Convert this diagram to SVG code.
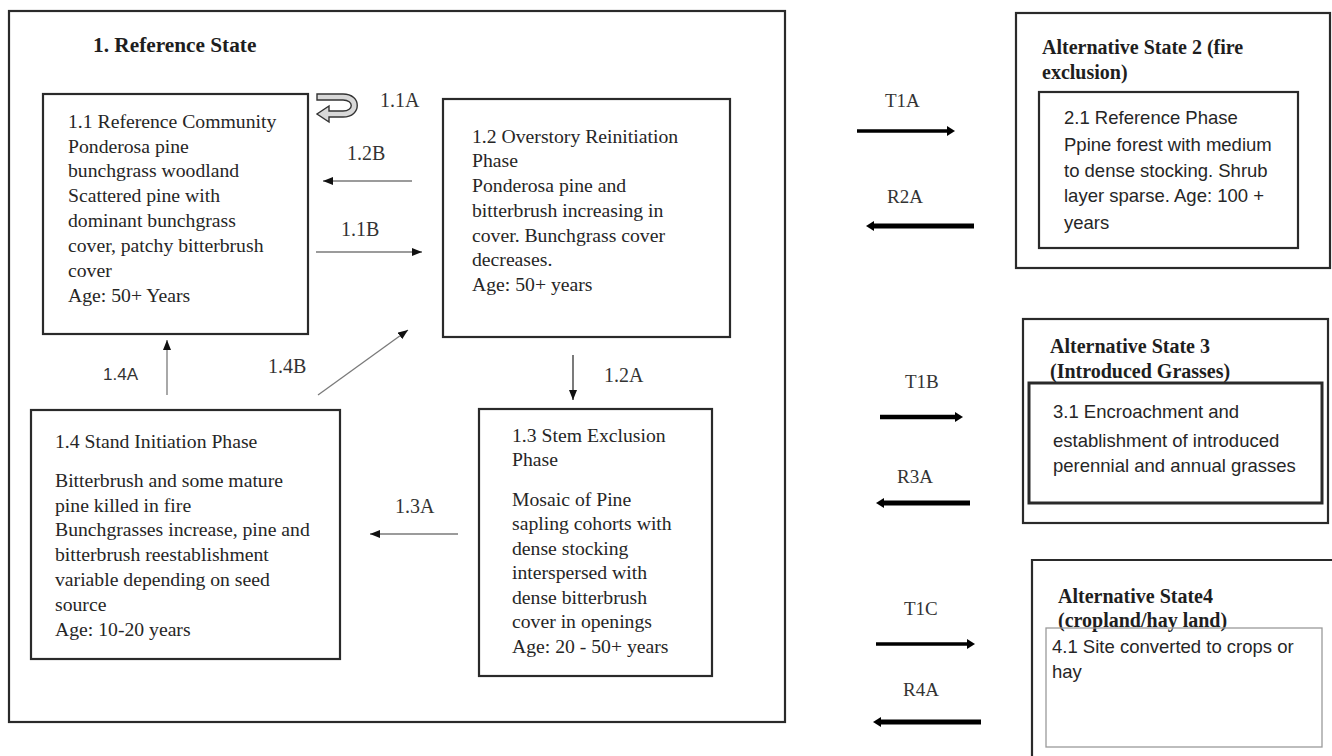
<svg xmlns="http://www.w3.org/2000/svg" width="1332" height="756" viewBox="0 0 1332 756">
<style>
.bx{fill:none;stroke:#2a2a2a;stroke-width:2.2}
.t{font-family:"Liberation Serif","Times New Roman",serif;font-size:19.7px;fill:#262626}
.tb{font-family:"Liberation Serif","Times New Roman",serif;font-size:20px;font-weight:bold;fill:#1e1e1e}
.lb{font-family:"Liberation Serif","Times New Roman",serif;font-size:20px;fill:#333}
.s{font-family:"Liberation Sans",Arial,sans-serif;font-size:18.5px;fill:#262626}
.thin{stroke:#7a7a7a;stroke-width:1.3;fill:none}
.thick{stroke:#000;fill:none}
</style>
<defs>
<marker id="ah" markerWidth="10" markerHeight="8" refX="10" refY="4" orient="auto" markerUnits="userSpaceOnUse"><path d="M0,0 L10,4 L0,8 Z" fill="#111"/></marker>
<marker id="ahT" markerWidth="8" markerHeight="10" refX="0" refY="5" orient="auto" markerUnits="userSpaceOnUse"><path d="M0,0 L8,5 L0,10 Z" fill="#000"/></marker>
</defs>
<rect width="1332" height="756" fill="#fff"/>

<g id="state1">
<rect class="bx" x="9" y="11" width="776" height="711"/>
<text class="tb" x="93" y="52" style="font-size:21.3px">1. Reference State</text>
</g>

<g id="n11">
<rect class="bx" x="43" y="94" width="265" height="240"/>
<text class="t"><tspan x="68" y="128">1.1 Reference Community</tspan><tspan x="68" y="153">Ponderosa pine</tspan><tspan x="68" y="177">bunchgrass woodland</tspan><tspan x="68" y="202">Scattered pine with</tspan><tspan x="68" y="227">dominant bunchgrass</tspan><tspan x="68" y="252">cover, patchy bitterbrush</tspan><tspan x="68" y="277">cover</tspan><tspan x="68" y="302">Age: 50+ Years</tspan></text>
</g>

<g id="n12">
<rect class="bx" x="443" y="99" width="287" height="238"/>
<text class="t"><tspan x="472" y="143">1.2 Overstory Reinitiation</tspan><tspan x="472" y="167">Phase</tspan><tspan x="472" y="192">Ponderosa pine and</tspan><tspan x="472" y="217">bitterbrush increasing in</tspan><tspan x="472" y="242">cover. Bunchgrass cover</tspan><tspan x="472" y="266">decreases.</tspan><tspan x="472" y="291">Age: 50+ years</tspan></text>
</g>

<g id="n13">
<rect class="bx" x="479" y="409" width="233" height="267"/>
<text class="t"><tspan x="512" y="442">1.3 Stem Exclusion</tspan><tspan x="512" y="466">Phase</tspan><tspan x="512" y="506">Mosaic of Pine</tspan><tspan x="512" y="530">sapling cohorts with</tspan><tspan x="512" y="555">dense stocking</tspan><tspan x="512" y="579">interspersed with</tspan><tspan x="512" y="604">dense bitterbrush</tspan><tspan x="512" y="628">cover in openings</tspan><tspan x="512" y="653">Age: 20 - 50+ years</tspan></text>
</g>

<g id="n14">
<rect class="bx" x="31" y="410" width="309" height="249"/>
<text class="t"><tspan x="55" y="448">1.4 Stand Initiation Phase</tspan><tspan x="55" y="487">Bitterbrush and some mature</tspan><tspan x="55" y="512">pine killed in fire</tspan><tspan x="55" y="536">Bunchgrasses increase, pine and</tspan><tspan x="55" y="561">bitterbrush reestablishment</tspan><tspan x="55" y="586">variable depending on seed</tspan><tspan x="55" y="611">source</tspan><tspan x="55" y="636">Age: 10-20 years</tspan></text>
</g>

<g id="state2">
<rect class="bx" x="1016" y="13" width="314" height="255"/>
<text class="tb"><tspan x="1042" y="54">Alternative State 2 (fire</tspan><tspan x="1042" y="79">exclusion)</tspan></text>
<rect class="bx" x="1039" y="92" width="259" height="156"/>
<text class="s"><tspan x="1064" y="124">2.1 Reference Phase</tspan><tspan x="1064" y="151">Ppine forest with medium</tspan><tspan x="1064" y="177">to dense stocking. Shrub</tspan><tspan x="1064" y="202">layer sparse. Age: 100 +</tspan><tspan x="1064" y="229">years</tspan></text>
</g>

<g id="state3">
<rect class="bx" x="1023" y="319" width="305" height="204"/>
<text class="tb"><tspan x="1050" y="353">Alternative State 3</tspan><tspan x="1050" y="378">(Introduced Grasses)</tspan></text>
<rect class="bx" x="1029" y="383" width="293" height="120" style="stroke-width:3"/>
<text class="s"><tspan x="1053" y="418">3.1 Encroachment and</tspan><tspan x="1053" y="447">establishment of introduced</tspan><tspan x="1053" y="472">perennial and annual grasses</tspan></text>
</g>

<g id="state4">
<path class="bx" d="M1032,756 V560 H1332"/>
<text class="tb"><tspan x="1058" y="603">Alternative State4</tspan><tspan x="1058" y="627">(cropland/hay land)</tspan></text>
<rect x="1046" y="628" width="276" height="119" fill="none" stroke="#9a9a9a" stroke-width="1.3"/>
<text class="s"><tspan x="1052" y="653">4.1 Site converted to crops or</tspan><tspan x="1052" y="678">hay</tspan></text>
</g>

<g id="connectors">
<path d="M317,94 L343,94 C362,94 362,117 343,117 L329,117 L329,122 L317,114 L329,106 L329,111 L343,111 C354,111 354,100 343,100 L317,100 Z" fill="#d8d8d8" stroke="#333" stroke-width="1.4"/>
<text class="lb" x="380" y="107">1.1A</text>
<line class="thin" x1="412" y1="181" x2="323" y2="181" marker-end="url(#ah)"/>
<text class="lb" x="347" y="160">1.2B</text>
<line class="thin" x1="316" y1="252" x2="422" y2="252" marker-end="url(#ah)"/>
<text class="lb" x="341" y="236">1.1B</text>
<line x1="573" y1="355" x2="573" y2="400" stroke="#222" stroke-width="1.2" marker-end="url(#ah)"/>
<text class="lb" x="604" y="382">1.2A</text>
<line class="thin" x1="458" y1="534" x2="370" y2="534" marker-end="url(#ah)"/>
<text class="lb" x="395" y="513">1.3A</text>
<line class="thin" x1="167" y1="395" x2="167" y2="340" marker-end="url(#ah)"/>
<text x="103" y="380" style="font-family:'Liberation Sans',Arial,sans-serif;font-size:17px;fill:#333">1.4A</text>
<line class="thin" x1="318" y1="395" x2="408" y2="330" marker-end="url(#ah)"/>
<text class="lb" x="268" y="373">1.4B</text>

<line class="thick" x1="857" y1="131" x2="947" y2="131" stroke-width="3.5" marker-end="url(#ahT)"/>
<text class="lb" x="885" y="107" style="font-size:19px">T1A</text>
<line class="thick" x1="974" y1="226" x2="874" y2="226" stroke-width="5" marker-end="url(#ahT)"/>
<text class="lb" x="887" y="203" style="font-size:19px">R2A</text>
<line class="thick" x1="880" y1="417" x2="955" y2="417" stroke-width="4.5" marker-end="url(#ahT)"/>
<text class="lb" x="905" y="388" style="font-size:19px">T1B</text>
<line class="thick" x1="970" y1="503" x2="884" y2="503" stroke-width="5" marker-end="url(#ahT)"/>
<text class="lb" x="897" y="483" style="font-size:19px">R3A</text>
<line class="thick" x1="876" y1="644" x2="967" y2="644" stroke-width="3.5" marker-end="url(#ahT)"/>
<text class="lb" x="904" y="615" style="font-size:19px">T1C</text>
<line class="thick" x1="981" y1="722" x2="881" y2="722" stroke-width="5" marker-end="url(#ahT)"/>
<text class="lb" x="903" y="696" style="font-size:19px">R4A</text>
</g>
</svg>
